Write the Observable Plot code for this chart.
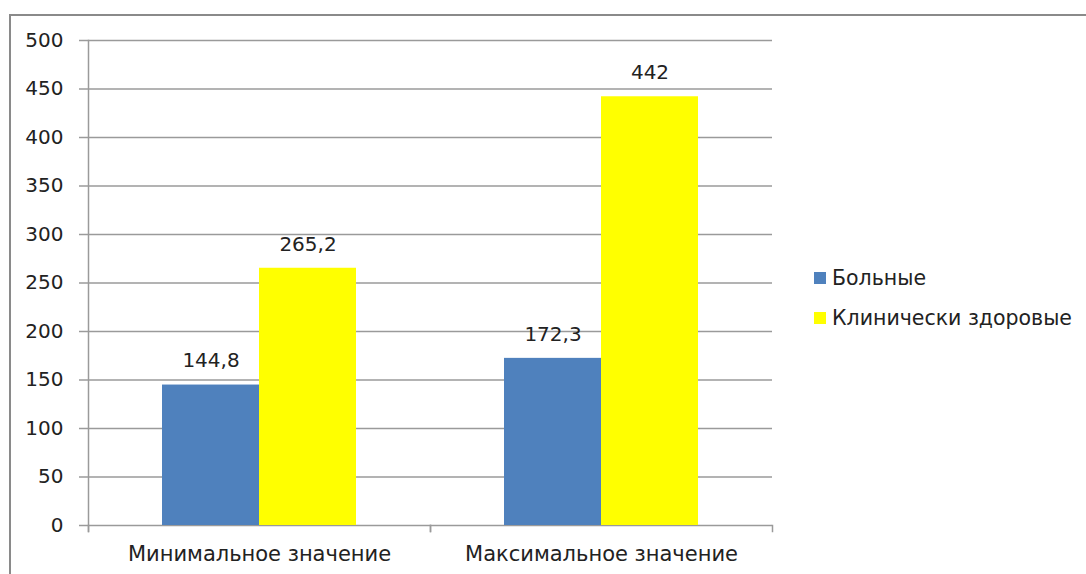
<!DOCTYPE html>
<html><head><meta charset="utf-8">
<script src="https://cdn.jsdelivr.net/npm/d3@7"></script>
<script src="https://cdn.jsdelivr.net/npm/@observablehq/plot@0.6"></script>
<style>
html,body{margin:0;padding:0;background:#fff;overflow:hidden;width:1086px;height:574px;}
#frame{position:absolute;left:9px;top:14px;width:1200px;height:700px;border-left:2px solid #8a8a8a;border-top:2px solid #8a8a8a;}
#chart{position:absolute;left:0;top:0;}
#legend{position:absolute;left:814px;top:265px;font-family:"DejaVu Sans",sans-serif;font-size:20.5px;color:#222;}
.item{display:flex;align-items:center;height:26px;margin-bottom:14px;}
.sw{width:12px;height:12px;margin-right:6px;}
</style></head>
<body>
<div id="frame"></div>
<div id="chart"></div>
<div id="legend"></div>
<script>
const categories = ["Минимальное значение", "Максимальное значение"];
const series = ["Больные", "Клинически здоровые"];
const colors = ["#4F81BD", "#FFFF00"];
const bolnye = [144.8, 172.3];
const zdorovye = [265.2, 442];
const yTicks = [0, 50, 100, 150, 200, 250, 300, 350, 400, 450, 500];

const rows = [];
categories.forEach((c, i) => {
  rows.push({category: c, series: series[0], value: bolnye[i]});
  rows.push({category: c, series: series[1], value: zdorovye[i]});
});
const fmt = v => String(v).replace(".", ",");
const font = "DejaVu Sans, sans-serif";
const H = 574, MT = 40, MB = 49;

const chart = Plot.plot({
  width: 800, height: H,
  marginLeft: 88, marginRight: 28, marginTop: MT, marginBottom: MB,
  style: {fontFamily: font, fontSize: "17px", color: "#222", background: "transparent"},
  fx: {domain: categories, paddingInner: 0, paddingOuter: 0, label: null},
  x: {domain: series, paddingInner: 0, paddingOuter: 0.754, axis: null},
  y: {domain: [0, 500], label: null},
  color: {domain: series, range: colors},
  marks: [
    Plot.gridY(yTicks, {stroke: "#9a9a9a", strokeOpacity: 1, strokeWidth: 1.5}),
    Plot.axisY(yTicks, {tickSize: 9, tickPadding: 16, stroke: "#9a9a9a", strokeWidth: 1.5, fontSize: 20, fill: "#222", label: null}),
    Plot.axisFx({anchor: "bottom", tickSize: 0, tickPadding: 21, fontSize: 21, fill: "#222", label: null}),
    Plot.frame({anchor: "left", facet: "super", stroke: "#9a9a9a", strokeWidth: 1.5, insetBottom: -6}),
    Plot.frame({anchor: "left", stroke: "#9a9a9a", strokeWidth: 1.5, insetTop: H - MT - MB, insetBottom: -6}),
    Plot.frame({anchor: "right", stroke: "#9a9a9a", strokeWidth: 1.5, insetTop: H - MT - MB, insetBottom: -6}),
    Plot.barY(rows, {fx: "category", x: "series", y: "value", fill: "series"}),
    Plot.text(rows, {fx: "category", x: "series", y: "value", text: d => fmt(d.value), dy: -24, fontSize: 20, fill: "#222"})
  ]
});
document.getElementById("chart").appendChild(chart);

const legend = document.getElementById("legend");
series.forEach((s, i) => {
  const it = document.createElement("div");
  it.className = "item";
  it.innerHTML = `<div class="sw" style="background:${colors[i]}"></div><span>${s}</span>`;
  legend.appendChild(it);
});
</script>
</body></html>
